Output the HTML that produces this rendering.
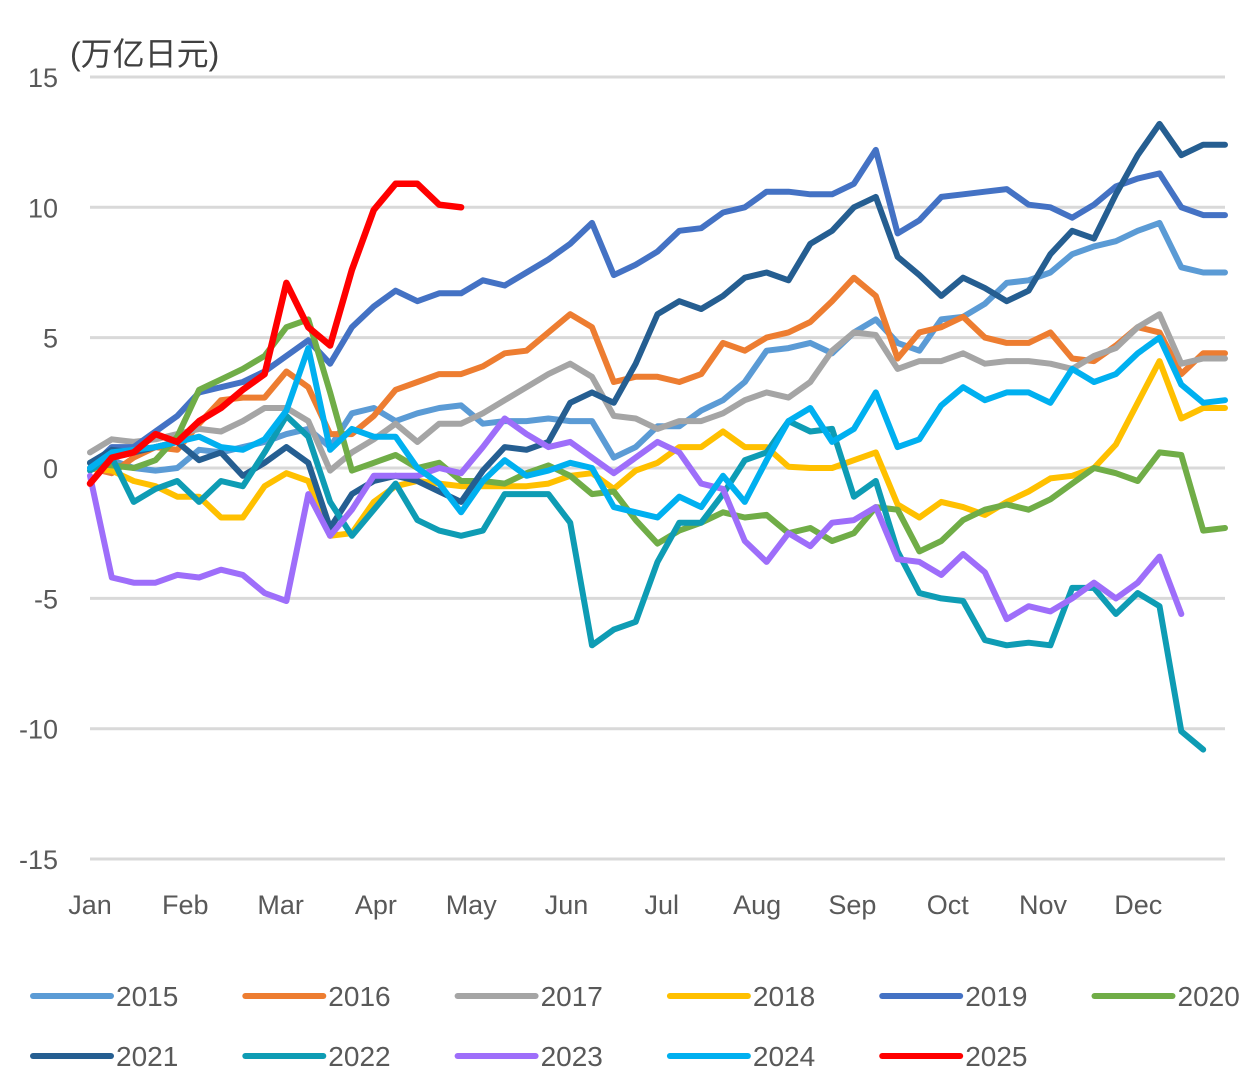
<!DOCTYPE html>
<html><head><meta charset="utf-8"><style>
html,body{margin:0;padding:0;background:#fff;}
svg{display:block;font-family:"Liberation Sans","Noto Sans CJK SC",sans-serif;}
</style></head><body>
<svg id="chart" width="1242" height="1092" viewBox="0 0 1242 1092" xmlns="http://www.w3.org/2000/svg">
<rect width="1242" height="1092" fill="#fff"/>
<text x="70" y="65" font-size="32" fill="#404040">(万亿日元)</text>
<g id="grid"></g><g id="yticks"></g><g id="xticks"></g><g id="lines"></g><g id="legend"></g>
</svg>
<script>
const yTicks = [15, 10, 5, 0, -5, -10, -15];
const yTickLabels = ["15", "10", "5", "0", "-5", "-10", "-15"];
const months = ["Jan","Feb","Mar","Apr","May","Jun","Jul","Aug","Sep","Oct","Nov","Dec"];
const seriesNames = ["2015","2016","2017","2018","2019","2020","2021","2022","2023","2024","2025"];
const seriesColors = ["#5B9BD5","#ED7D31","#A5A5A5","#FFC000","#4472C4","#70AD47","#255E91","#0E9CB4","#9E6EFA","#00B0F0","#FF0000"];
const s2015 = [0.2,0.3,0,-0.1,0,0.7,0.6,0.8,1.0,1.3,1.5,0.8,2.1,2.3,1.8,2.1,2.3,2.4,1.7,1.8,1.8,1.9,1.8,1.8,0.4,0.8,1.6,1.6,2.2,2.6,3.3,4.5,4.6,4.8,4.4,5.2,5.7,4.8,4.5,5.7,5.8,6.3,7.1,7.2,7.5,8.2,8.5,8.7,9.1,9.4,7.7,7.5,7.5];
const s2016 = [0,-0.2,0.4,0.8,0.7,1.7,2.6,2.7,2.7,3.7,3.1,1.3,1.3,2.0,3.0,3.3,3.6,3.6,3.9,4.4,4.5,5.2,5.9,5.4,3.3,3.5,3.5,3.3,3.6,4.8,4.5,5.0,5.2,5.6,6.4,7.3,6.6,4.2,5.2,5.4,5.8,5.0,4.8,4.8,5.2,4.2,4.1,4.7,5.4,5.2,3.6,4.4,4.4];
const s2017 = [0.6,1.1,1.0,1.1,1.3,1.5,1.4,1.8,2.3,2.3,1.8,-0.1,0.6,1.1,1.7,1.0,1.7,1.7,2.1,2.6,3.1,3.6,4.0,3.5,2.0,1.9,1.5,1.8,1.8,2.1,2.6,2.9,2.7,3.3,4.5,5.2,5.1,3.8,4.1,4.1,4.4,4.0,4.1,4.1,4.0,3.8,4.3,4.6,5.4,5.9,4.0,4.2,4.2];
const s2018 = [0,-0.1,-0.5,-0.7,-1.1,-1.1,-1.9,-1.9,-0.7,-0.2,-0.5,-2.6,-2.5,-1.3,-0.7,-0.5,-0.6,-0.7,-0.7,-0.7,-0.7,-0.6,-0.3,-0.2,-0.8,-0.1,0.2,0.8,0.8,1.4,0.8,0.8,0.05,0,0,0.3,0.6,-1.4,-1.9,-1.3,-1.5,-1.8,-1.3,-0.9,-0.4,-0.3,0,0.9,2.5,4.1,1.9,2.3,2.3];
const s2019 = [0,0.8,0.8,1.4,2.0,2.9,3.1,3.3,3.7,4.3,4.9,4.0,5.4,6.2,6.8,6.4,6.7,6.7,7.2,7.0,7.5,8.0,8.6,9.4,7.4,7.8,8.3,9.1,9.2,9.8,10.0,10.6,10.6,10.5,10.5,10.9,12.2,9.0,9.5,10.4,10.5,10.6,10.7,10.1,10.0,9.6,10.1,10.8,11.1,11.3,10.0,9.7,9.7];
const s2020 = [0.2,0.1,0,0.3,1.2,3.0,3.4,3.8,4.3,5.4,5.7,2.9,-0.1,0.2,0.5,0,0.2,-0.5,-0.5,-0.6,-0.2,0.1,-0.3,-1.0,-0.9,-2.0,-2.9,-2.4,-2.1,-1.7,-1.9,-1.8,-2.5,-2.3,-2.8,-2.5,-1.5,-1.6,-3.2,-2.8,-2.0,-1.6,-1.4,-1.6,-1.2,-0.6,0,-0.2,-0.5,0.6,0.5,-2.4,-2.3];
const s2021 = [0.2,0.7,0.6,0.8,1.0,0.3,0.6,-0.3,0.2,0.8,0.2,-2.3,-1.0,-0.5,-0.3,-0.5,-0.9,-1.3,-0.1,0.8,0.7,1.0,2.5,2.9,2.5,4.0,5.9,6.4,6.1,6.6,7.3,7.5,7.2,8.6,9.1,10.0,10.4,8.1,7.4,6.6,7.3,6.9,6.4,6.8,8.2,9.1,8.8,10.5,12.0,13.2,12.0,12.4,12.4];
const s2022 = [-0.1,0.4,-1.3,-0.8,-0.5,-1.3,-0.5,-0.7,0.6,2.0,1.2,-1.3,-2.6,-1.6,-0.6,-2.0,-2.4,-2.6,-2.4,-1.0,-1.0,-1.0,-2.1,-6.8,-6.2,-5.9,-3.6,-2.1,-2.1,-1.0,0.3,0.6,1.8,1.4,1.5,-1.1,-0.5,-3.2,-4.8,-5.0,-5.1,-6.6,-6.8,-6.7,-6.8,-4.6,-4.6,-5.6,-4.8,-5.3,-10.1,-10.8];
const s2023 = [-0.3,-4.2,-4.4,-4.4,-4.1,-4.2,-3.9,-4.1,-4.8,-5.1,-1.0,-2.6,-1.6,-0.3,-0.3,-0.3,0,-0.2,0.8,1.9,1.3,0.8,1.0,0.4,-0.2,0.4,1.0,0.6,-0.6,-0.8,-2.8,-3.6,-2.5,-3.0,-2.1,-2.0,-1.5,-3.5,-3.6,-4.1,-3.3,-4.0,-5.8,-5.3,-5.5,-5.0,-4.4,-5.0,-4.4,-3.4,-5.6];
const s2024 = [0,0.6,0.7,0.8,1.0,1.2,0.8,0.7,1.1,2.2,4.6,0.7,1.5,1.2,1.2,0,-0.6,-1.7,-0.5,0.3,-0.3,-0.1,0.2,0,-1.5,-1.7,-1.9,-1.1,-1.5,-0.3,-1.3,0.3,1.8,2.3,1.0,1.5,2.9,0.8,1.1,2.4,3.1,2.6,2.9,2.9,2.5,3.8,3.3,3.6,4.4,5.0,3.2,2.5,2.6];
const s2025 = [-0.6,0.4,0.6,1.3,1.0,1.8,2.3,3.0,3.6,7.1,5.4,4.7,7.6,9.9,10.9,10.9,10.1,10.0];
const seriesValues = [s2015,s2016,s2017,s2018,s2019,s2020,s2021,s2022,s2023,s2024,s2025];

const NS = "http://www.w3.org/2000/svg";
const X0 = 90, X1 = 1225, WEEKS = 52;
const yScale = v => 468 - v * 26.07;
const xScale = i => X0 + i * (X1 - X0) / WEEKS;
const monthX = m => 90 + m * 95.3;
function mk(tag, attrs, parent) {
  const e = document.createElementNS(NS, tag);
  for (const k in attrs) e.setAttribute(k, attrs[k]);
  parent.appendChild(e);
  return e;
}
const grid = document.getElementById("grid");
const yt = document.getElementById("yticks");
yTicks.forEach((v, k) => {
  const ln = mk("line", {x1: X0, x2: X1, y1: yScale(v), y2: yScale(v), stroke: "#d9d9d9", "stroke-width": 3}, grid);
  
  
  const t = mk("text", {x: 58, y: yScale(v) + 10, "text-anchor": "end", "font-size": 27, fill: "#595959"}, yt);
  t.textContent = yTickLabels[k];
  
  
});
const xt = document.getElementById("xticks");
months.forEach((m, k) => {
  const t = mk("text", {x: monthX(k), y: 914, "text-anchor": "middle", "font-size": 27, fill: "#595959"}, xt);
  t.textContent = m;
  
  
});
const lines = document.getElementById("lines");
seriesValues.forEach((vals, s) => {
  const pts = vals.map((v, i) => xScale(i).toFixed(1) + "," + yScale(v).toFixed(1)).join(" ");
  const p = mk("polyline", {points: pts, fill: "none", stroke: seriesColors[s], "stroke-width": s === 10 ? 6.5 : 6, "stroke-linejoin": "round", "stroke-linecap": "round"}, lines);
  
  
});
const leg = document.getElementById("legend");
seriesNames.forEach((n, s) => {
  const col = s < 6 ? s : s - 6, row = s < 6 ? 0 : 1;
  const lx = 33 + col * 212.3, ly = row === 0 ? 996 : 1056;
  const g = mk("g", {}, leg);
  
  
  mk("line", {x1: lx, x2: lx + 78, y1: ly, y2: ly, stroke: seriesColors[s], "stroke-width": 6, "stroke-linecap": "round"}, g);
  const t = mk("text", {x: lx + 83, y: ly + 10, "font-size": 28, fill: "#595959"}, g);
  t.textContent = n;
});
</script>
</body></html>
